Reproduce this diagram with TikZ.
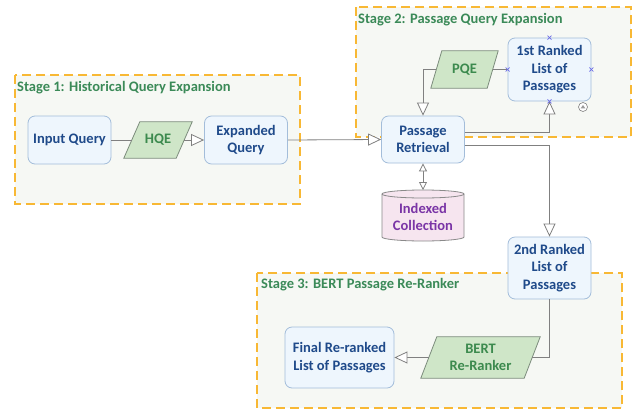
\documentclass[tikz,border=0pt]{standalone}
\usepackage{fontspec}
\setmainfont{Carlito}
\usetikzlibrary{arrows.meta,calc}
\pgfdeclarelayer{bg}
\pgfsetlayers{bg,main}

\definecolor{stagefill}{HTML}{F6F8F4}
\definecolor{stageline}{HTML}{F8B834}
\definecolor{stagetext}{HTML}{3B8A58}
\definecolor{boxfill}{HTML}{EEF6FD}
\definecolor{boxline}{HTML}{A3BDDA}
\definecolor{boxtext}{HTML}{1F4A8A}
\definecolor{parafill}{HTML}{CFE6C8}
\definecolor{paraline}{HTML}{7C8C7C}
\definecolor{paratext}{HTML}{3C8A4E}
\definecolor{cylfill}{HTML}{F6E5EF}
\definecolor{cylline}{HTML}{8A8A8A}
\definecolor{cyltext}{HTML}{7A35A6}
\definecolor{connline}{HTML}{808080}
\definecolor{markblue}{HTML}{6B6BE6}

% outline of a parallelogram around a text node: #1 node, #2 half of the slant
\newcommand\paraoutline[2]{%
  \path[parashape] ([xshift=#2]#1.north west) -- ([xshift=#2]#1.north east)
    -- ([xshift=-#2]#1.south east) -- ([xshift=-#2]#1.south west) -- cycle;}

\begin{document}
\begin{tikzpicture}[x=1pt,y=-1pt,
  stage/.style={draw=stageline, fill=stagefill, line width=1.6pt, dash pattern=on 9pt off 5pt},
  stagelabel/.style={anchor=west, inner sep=0pt, text=stagetext, font=\fontsize{14.5}{16}\selectfont\bfseries},
  blk/.style={draw=boxline, fill=boxfill, rounded corners=7pt, line width=0.8pt, minimum width=83pt,
    inner sep=0pt, align=center, text=boxtext, font=\fontsize{14.5}{17.5}\selectfont\bfseries},
  para/.style={inner sep=0pt, align=center, text=paratext, font=\fontsize{14.5}{17.5}\selectfont\bfseries},
  parashape/.style={draw=paraline, fill=parafill, line width=0.8pt},
  cyl/.style={draw=cylline, fill=cylfill, line width=0.8pt},
  cyllabel/.style={inner sep=0pt, minimum width=82pt, minimum height=51pt, align=center, text=cyltext,
    font=\fontsize{14.5}{17.5}\selectfont\bfseries},
  conn/.style={draw=connline, line width=0.8pt},
  tip/.style={-{Triangle[length=13pt,width=12pt,fill=white]}},
  smalltips/.style={{Triangle[length=8pt,width=8pt,fill=white]}-{Triangle[length=8pt,width=8pt,fill=white]}},
  xmark/.style={draw=markblue, line width=0.6pt}
]
\useasboundingbox (0,0) rectangle (634,410);

% page and stage frames
\begin{pgfonlayer}{bg}
  \fill[white] (0,0) rectangle (634,410);
  \path[stage] (15,75) rectangle (300,204);
  \path[stage] (356,7) rectangle (631,137);
  \path[stage] (257,273) rectangle (622,408);
\end{pgfonlayer}
\node[stagelabel] (s1) at (17,88) {Stage 1: Historical Query Expansion};
\node[stagelabel] (s2) at (358,19.5) {Stage 2: Passage Query Expansion};
\node[stagelabel] (s3) at (261,285) {Stage 3: BERT Passage Re-Ranker};

% process boxes
\node[blk, minimum height=48pt] (iq) at (69.5,140) {Input Query};
\node[blk, minimum height=48pt] (eq) at (246,140) {Expanded\\Query};
\node[blk, minimum height=47pt] (pr) at (423,139.5) {Passage\\Retrieval};
\node[blk, minimum height=63pt] (r1) at (549.5,69.5) {1st Ranked\\List of\\Passages};
\node[blk, minimum height=62pt] (r2) at (549.5,268) {2nd Ranked\\List of\\Passages};
\node[blk, minimum width=109pt, minimum height=61pt] (fin) at (339.5,357.5) {Final Re-ranked\\List of Passages};

% expansion / re-ranking steps
\node[para, minimum width=52pt, minimum height=36pt] (hqe) at (158,140) {HQE};
\node[para, minimum width=56pt, minimum height=37pt] (pqe) at (464.5,69.5) {PQE};
\node[para, minimum width=103pt, minimum height=41pt] (bert) at (480.5,357.5) {BERT\\Re-Ranker};
\begin{pgfonlayer}{bg}
  \paraoutline{hqe}{8pt}
  \paraoutline{pqe}{5.5pt}
  \paraoutline{bert}{8pt}
\end{pgfonlayer}

% document collection
\begin{pgfonlayer}{bg}
  \path[cyl] (382,194) -- (382,237)
    arc[start angle=180, end angle=360, x radius=41pt, y radius=4pt]
    -- (464,194)
    arc[start angle=0, end angle=180, x radius=41pt, y radius=4pt] -- cycle;
  \draw[cylline, line width=0.8pt] (382,194) arc[start angle=180, end angle=360, x radius=41pt, y radius=4pt];
\end{pgfonlayer}
\node[cyllabel] (coll) at (423,217) {Indexed\\Collection};
\coordinate (colltop) at (423,190);

% connectors
\draw[conn] (iq.east) -- (hqe.west);
\draw[conn, tip] (hqe.east) -- (eq.west);
\draw[conn, tip] (eq.east) -- (pr.west);
\draw[conn, tip] (pqe.west) -| (pr.north);
\draw[conn] (pqe.east) -- (r1.west);
\draw[conn, tip] ([yshift=7.5pt]pr.east) -| (r1.south);
\draw[conn, tip] ([yshift=-5.5pt]pr.east) -| (r2.north);
\draw[conn, smalltips] (pr.south) -- (colltop);
\draw[conn] (r2.south) |- (bert.east);
\draw[conn, tip] (bert.west) -- (fin.east);

% connection point markers
\foreach \a in {north,south,east,west}{
  \draw[xmark] ($(r1.\a)+(-2,-2)$) -- ($(r1.\a)+(2,2)$);
  \draw[xmark] ($(r1.\a)+(-2,2)$) -- ($(r1.\a)+(2,-2)$);
}
% collapse button
\node[circle, draw=connline, fill=white, line width=0.6pt, minimum size=9pt, inner sep=0pt] (btn) at (583,107) {};
\fill[connline!80] ($(btn.center)+(-2.3,1.3)$) -- ($(btn.center)+(2.3,1.3)$) -- ($(btn.center)+(0,-2)$) -- cycle;
\end{tikzpicture}
\end{document}
